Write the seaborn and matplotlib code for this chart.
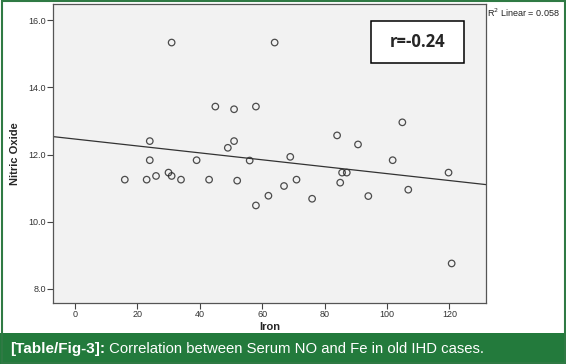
import matplotlib
matplotlib.use('Agg')
import matplotlib.pyplot as plt
import seaborn as sns
import pandas as pd
from matplotlib.patches import Rectangle
from matplotlib.text import Annotation

# Iron vs nitric oxide values
iron = [16, 23, 24, 24, 26, 30, 31, 31, 34, 39, 43, 45, 49, 51, 51, 52,
        56, 58, 58, 62, 64, 67, 69, 71, 76, 84, 85, 85.6, 87.1, 90.7,
        94, 101.8, 104.9, 106.8, 119.7, 120.7]
nitric_oxide = [11.25, 11.25, 11.83, 12.40, 11.36, 11.46, 11.36, 15.34, 11.25,
                11.83, 11.25, 13.43, 12.20, 13.35, 12.40, 11.22,
                11.82, 13.43, 10.48, 10.77, 15.34, 11.06, 11.93, 11.25,
                10.68, 12.57, 11.16, 11.46, 11.46, 12.30,
                10.76, 11.83, 12.96, 10.95, 11.46, 8.75]
x_ticks = [0, 20, 40, 60, 80, 100, 120]
y_ticks = [8.0, 10.0, 12.0, 14.0, 16.0]

df = pd.DataFrame({'Iron': iron, 'Nitric Oxide': nitric_oxide})

sns.set_style('white')
plt.rcParams['font.family'] = ['Liberation Sans', 'DejaVu Sans']

fig = plt.figure(figsize=(5.66, 3.64), dpi=100)
ax = fig.add_axes([53 / 566, 61 / 364, 433 / 566, 299 / 364])
ax.set_facecolor('#f2f2f2')
ax.set_xlim(-7, 131.7)
ax.set_ylim(7.57, 16.49)

sns.regplot(data=df, x='Iron', y='Nitric Oxide', ax=ax, ci=None, truncate=False,
            scatter_kws=dict(s=22, facecolors='none', edgecolors='#222222', linewidths=0.9),
            line_kws=dict(color='#333333', linewidth=0.9))
ax.set_xlim(-7, 131.7)
ax.set_ylim(7.57, 16.49)

ax.set_xticks(x_ticks)
ax.set_xticklabels([str(v) for v in x_ticks])
ax.set_yticks(y_ticks)
ax.set_yticklabels([f'{v:.1f}' for v in y_ticks])
ax.tick_params(axis='both', which='both', direction='out', length=4, width=0.8,
               color='#444444', labelsize=6.5, labelcolor='#333333', pad=1,
               bottom=True, left=True)
for side, sp in ax.spines.items():
    sp.set_color('#555555')
    sp.set_linewidth(0.9)

ax.set_xlabel('Iron', fontsize=8, fontweight='bold')
ax.set_ylabel('Nitric Oxide', fontsize=8, fontweight='bold')
ax.xaxis.set_label_coords(0.5, -0.065)
ax.yaxis.set_label_coords(-33 / 433, 0.5)

# r annotation box
ax.add_patch(Rectangle((0.734, 0.803), 0.215, 0.14, transform=ax.transAxes,
                       facecolor='white', edgecolor='black', linewidth=1.1, zorder=4))
ax.text(0.8415, 0.873, 'r=-0.24', transform=ax.transAxes, ha='center', va='center',
        fontsize=12, fontweight='bold', family=['Open Sans', 'DejaVu Sans'], zorder=5)

fig.text(487 / 566, 1 - 13 / 364, 'R$^2$ Linear = 0.058', fontsize=6.5, ha='left', va='center',
         color='#222222')

# caption band and outer frame
fig.patches.append(Rectangle((0, 0), 1, 31 / 364, transform=fig.transFigure,
                             facecolor='#237a3c', edgecolor='none', zorder=0))
fig.patches.append(Rectangle((1.5 / 566, 1 / 364), 563 / 566, 362 / 364, transform=fig.transFigure,
                             facecolor='none', edgecolor='#2f7a44', linewidth=1.5, zorder=5))
t1 = fig.text(10 / 566, 15 / 364, '[Table/Fig-3]:', fontsize=11, fontweight='bold',
              color='white', ha='left', va='center', zorder=6)
t2 = Annotation(' Correlation between Serum NO and Fe in old IHD cases.', xy=(1, 0.5),
                xycoords=t1, ha='left', va='center', fontsize=10.7, color='white',
                annotation_clip=False, zorder=6)
fig.add_artist(t2)

fig.savefig('out.png', dpi=100)
